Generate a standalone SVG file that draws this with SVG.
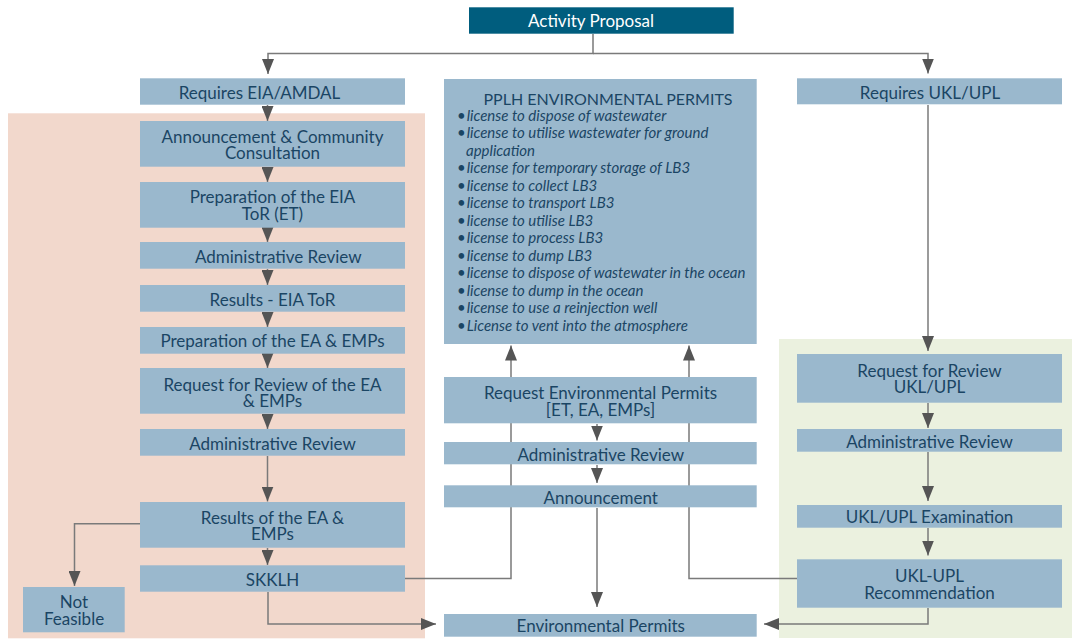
<svg xmlns="http://www.w3.org/2000/svg" width="1072" height="639" viewBox="0 0 1072 639">
<style>
.bx{fill:#9ab8cd}
.t{font-family:Lato,"Open Sans","Liberation Sans",sans-serif;font-size:17px;fill:#1a4564;text-anchor:middle}
.w{fill:#ffffff}
.b{font-family:Lato,"Open Sans","Liberation Sans",sans-serif;font-size:15px;font-style:italic;fill:#1a4564}
.d{font-style:normal}
.c{fill:none;stroke:#7a7a7a;stroke-width:1.5}
.a{marker-end:url(#ah)}
</style>
<defs>
<marker id="ah" markerUnits="userSpaceOnUse" markerWidth="16" markerHeight="12" viewBox="0 0 16 12" refX="15" refY="6" orient="auto">
<path d="M0,0 L15,6 L0,12 z" fill="#555555"/>
</marker>
</defs>
<rect x="0" y="0" width="1072" height="639" fill="#ffffff"/>
<rect id="bg-amdal" x="8" y="113.3" width="417" height="525" fill="#f2d8cc"/>
<rect id="bg-ukl" x="779" y="339" width="293" height="299" fill="#ebf1df"/>

<g id="connectors">
<path class="c a" d="M593,34 V53.5 H268 V74"/>
<path class="c a" d="M593,53.5 H928 V73.5"/>
<path class="c a" d="M267.5,105 V121"/>
<path class="c a" d="M267.5,167 V182"/>
<path class="c a" d="M267.5,228 V242"/>
<path class="c a" d="M267.5,269 V285"/>
<path class="c a" d="M267.5,312 V327"/>
<path class="c a" d="M267.5,354 V368"/>
<path class="c a" d="M267.5,414 V429"/>
<path class="c a" d="M267.5,456 V501.5"/>
<path class="c a" d="M267.5,548 V565"/>
<path class="c a" d="M140,523.7 H74.5 V586"/>
<path class="c a" d="M268,592 V624 H436"/>
<path class="c a" d="M405,578.5 H511 V345.5"/>
<path class="c a" d="M797,578.5 H689 V345.5"/>
<path class="c a" d="M928,608 V624 H764"/>
<path class="c a" d="M928,105 V351"/>
<path class="c a" d="M928,403 V428"/>
<path class="c a" d="M928,452 V501"/>
<path class="c a" d="M928,528 V555.5"/>
<path class="c a" d="M597,424 V440.5"/>
<path class="c a" d="M597,465 V483"/>
<path class="c a" d="M597,508 V607"/>
</g>

<g id="activity-proposal">
<rect x="469" y="7.3" width="264.7" height="26.4" fill="#005d7e"/>
<text class="t w" x="591" y="26.7">Activity Proposal</text>
</g>

<g id="requires-eia">
<rect class="bx" x="140" y="78.3" width="265" height="26.4"/>
<text class="t" x="259.5" y="99.3">Requires EIA/AMDAL</text>
</g>
<g id="announcement-consultation">
<rect class="bx" x="140" y="121" width="265" height="45.7"/>
<text class="t"><tspan x="272.5" y="142.7">Announcement &amp; Community</tspan><tspan x="272.5" y="159.3">Consultation</tspan></text>
</g>
<g id="prep-eia-tor">
<rect class="bx" x="140" y="182" width="265" height="45.7"/>
<text class="t"><tspan x="272.5" y="203.3">Preparation of the EIA</tspan><tspan x="272.5" y="220">ToR (ET)</tspan></text>
</g>
<g id="admin-review-1">
<rect class="bx" x="140" y="242" width="265" height="26.7"/>
<text class="t" x="278.3" y="263.3">Administrative Review</text>
</g>
<g id="results-eia-tor">
<rect class="bx" x="140" y="285" width="265" height="26.7"/>
<text class="t" x="272.5" y="306">Results - EIA ToR</text>
</g>
<g id="prep-ea-emps">
<rect class="bx" x="140" y="327" width="265" height="26.7"/>
<text class="t" x="272.5" y="347">Preparation of the EA &amp; EMPs</text>
</g>
<g id="request-review-ea">
<rect class="bx" x="140" y="368" width="265" height="45.7"/>
<text class="t"><tspan x="272.5" y="390.7">Request for Review of the EA</tspan><tspan x="272.5" y="406.7">&amp; EMPs</tspan></text>
</g>
<g id="admin-review-2">
<rect class="bx" x="140" y="429" width="265" height="26.7"/>
<text class="t" x="272.5" y="450">Administrative Review</text>
</g>
<g id="results-ea-emps">
<rect class="bx" x="140" y="502" width="265" height="45.7"/>
<text class="t"><tspan x="272.5" y="524">Results of the EA &amp;</tspan><tspan x="272.5" y="540">EMPs</tspan></text>
</g>
<g id="skklh">
<rect class="bx" x="140" y="565.3" width="265" height="26.4"/>
<text class="t" x="272.5" y="585.7">SKKLH</text>
</g>
<g id="not-feasible">
<rect class="bx" x="23" y="587" width="101.7" height="45.3"/>
<text class="t"><tspan x="74" y="608.3">Not</tspan><tspan x="74" y="625">Feasible</tspan></text>
</g>

<g id="pplh-permits">
<rect class="bx" x="444" y="79" width="312.7" height="265"/>
<text class="t" x="608" y="104.5" style="font-size:16px">PPLH ENVIRONMENTAL PERMITS</text>
<text class="b"><tspan class="d" x="457" y="120.5">•</tspan><tspan x="466.7" y="120.5">license to dispose of wastewater</tspan></text>
<text class="b"><tspan class="d" x="457" y="138">•</tspan><tspan x="466.7" y="138">license to utilise wastewater for ground</tspan><tspan x="466" y="155.6">application</tspan></text>
<text class="b"><tspan class="d" x="457" y="173.1">•</tspan><tspan x="466.7" y="173.1">license for temporary storage of LB3</tspan></text>
<text class="b"><tspan class="d" x="457" y="190.6">•</tspan><tspan x="466.7" y="190.6">license to collect LB3</tspan></text>
<text class="b"><tspan class="d" x="457" y="208.2">•</tspan><tspan x="466.7" y="208.2">license to transport LB3</tspan></text>
<text class="b"><tspan class="d" x="457" y="225.7">•</tspan><tspan x="466.7" y="225.7">license to utilise LB3</tspan></text>
<text class="b"><tspan class="d" x="457" y="243.2">•</tspan><tspan x="466.7" y="243.2">license to process LB3</tspan></text>
<text class="b"><tspan class="d" x="457" y="260.7">•</tspan><tspan x="466.7" y="260.7">license to dump LB3</tspan></text>
<text class="b"><tspan class="d" x="457" y="278.3">•</tspan><tspan x="466.7" y="278.3">license to dispose of wastewater in the ocean</tspan></text>
<text class="b"><tspan class="d" x="457" y="295.8">•</tspan><tspan x="466.7" y="295.8">license to dump in the ocean</tspan></text>
<text class="b"><tspan class="d" x="457" y="313.3">•</tspan><tspan x="466.7" y="313.3">license to use a reinjection well</tspan></text>
<text class="b"><tspan class="d" x="457" y="330.9">•</tspan><tspan x="466.7" y="330.9">License to vent into the atmosphere</tspan></text>
</g>
<g id="request-env-permits">
<rect class="bx" x="444" y="377" width="312.7" height="46.3"/>
<text class="t"><tspan x="600.5" y="398.5">Request Environmental Permits</tspan><tspan x="600.5" y="415.5">[ET, EA, EMPs]</tspan></text>
</g>
<g id="admin-review-mid">
<rect class="bx" x="444" y="442" width="312.7" height="22.3"/>
<text class="t" x="600.7" y="460.5">Administrative Review</text>
</g>
<g id="announcement-mid">
<rect class="bx" x="444" y="485.3" width="312.7" height="22"/>
<text class="t" x="600.7" y="503.5">Announcement</text>
</g>
<g id="environmental-permits">
<rect class="bx" x="444" y="614" width="312.7" height="22.7"/>
<text class="t" x="600.8" y="631.5">Environmental Permits</text>
</g>

<g id="requires-ukl">
<rect class="bx" x="797" y="78.3" width="265" height="26"/>
<text class="t" x="930" y="99.3">Requires UKL/UPL</text>
</g>
<g id="request-review-ukl">
<rect class="bx" x="797" y="354" width="265" height="48.7"/>
<text class="t"><tspan x="929.5" y="376.7">Request for Review</tspan><tspan x="929.5" y="393.3">UKL/UPL</tspan></text>
</g>
<g id="admin-review-ukl">
<rect class="bx" x="797" y="429" width="265" height="22.7"/>
<text class="t" x="929.5" y="448">Administrative Review</text>
</g>
<g id="ukl-examination">
<rect class="bx" x="797" y="505" width="265" height="22.7"/>
<text class="t" x="929.5" y="523.3">UKL/UPL Examination</text>
</g>
<g id="ukl-recommendation">
<rect class="bx" x="797" y="559.3" width="265" height="48.4"/>
<text class="t"><tspan x="929.5" y="582.3">UKL-UPL</tspan><tspan x="929.5" y="598.7">Recommendation</tspan></text>
</g>
</svg>
